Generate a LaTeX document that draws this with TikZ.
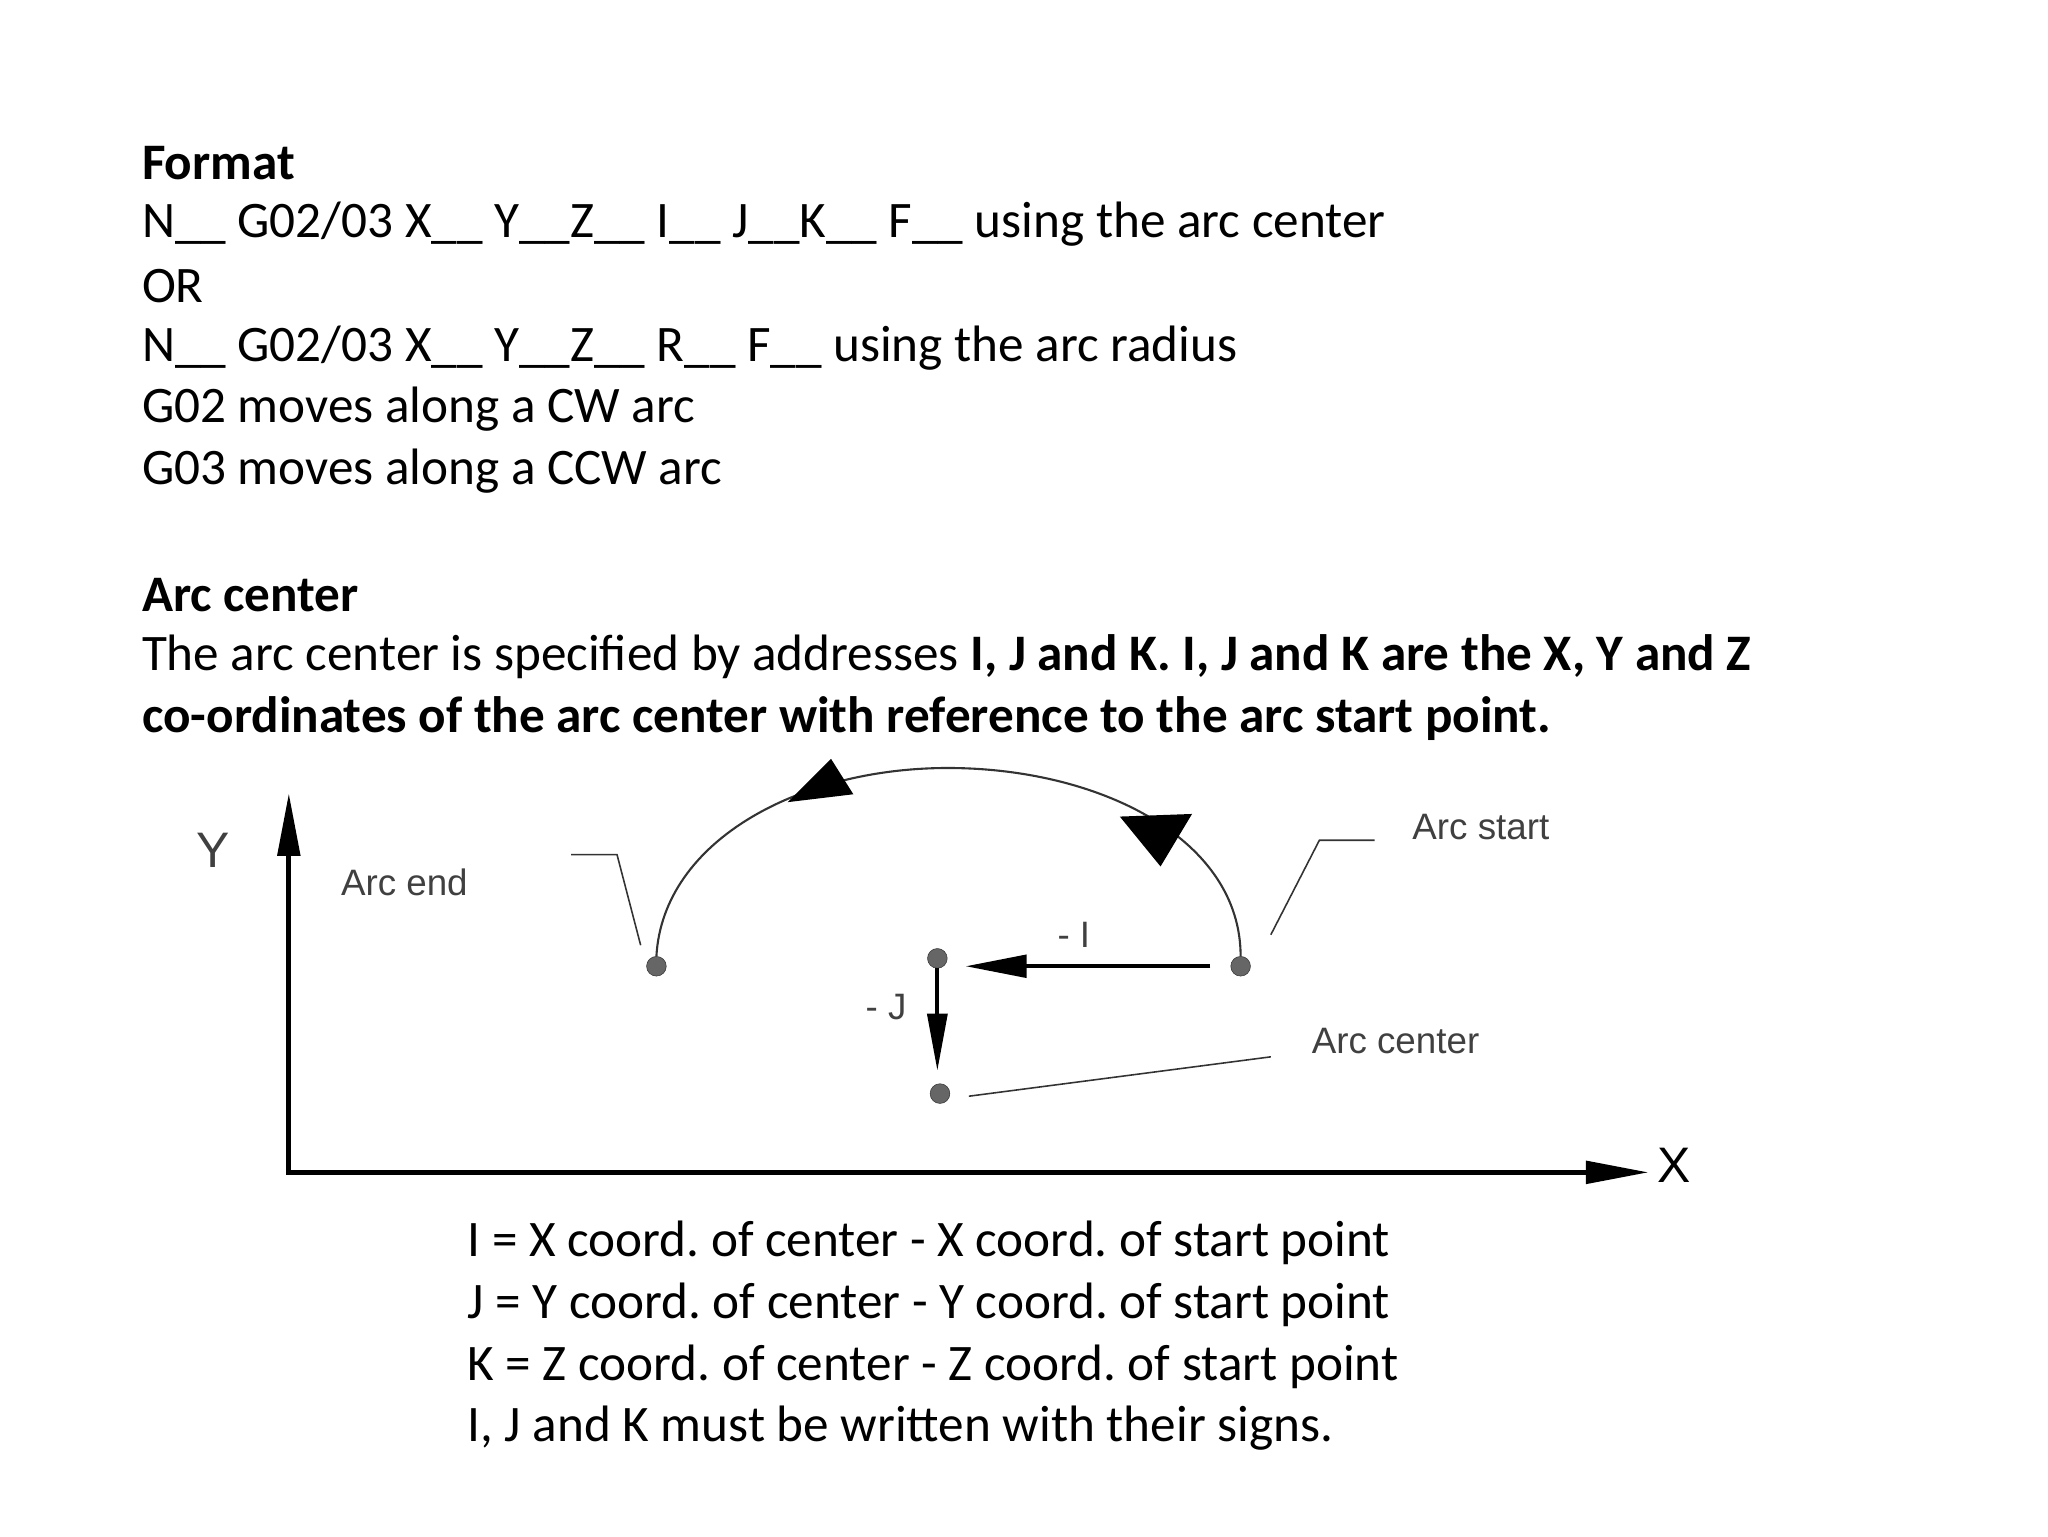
\documentclass[tikz,border=0pt]{standalone}
\usepackage{fontspec}
\setmainfont{Carlito}
\newfontfamily\arialf{Liberation Sans}
\frenchspacing
\begin{document}
\begin{tikzpicture}[x=1pt,y=-1pt,
  txt/.style={anchor=west,inner sep=0,font=\fontsize{39}{46}\selectfont},
  lab/.style={inner sep=0,font=\arialf\fontsize{28}{32}\selectfont,text=black!75},
  dot/.style={circle,fill=black!60,draw=black!80,inner sep=0,minimum size=15pt},
  ln/.style={line width=1.2pt,black!80},
  tri/.style={fill=black}]
\useasboundingbox (0,0) rectangle (1560,1170);
\node[txt] (t1) at (108,124) {\textbf{Format}};
\node[txt] (t2) at (108,171) {N\_\_ G02/03 X\_\_ Y\_\_Z\_\_ I\_\_ J\_\_K\_\_ F\_\_ using the arc center};
\node[txt] (t3) at (108,218) {OR};
\node[txt] (t4) at (108,265) {N\_\_ G02/03 X\_\_ Y\_\_Z\_\_ R\_\_ F\_\_ using the arc radius};
\node[txt] (t5) at (108,312) {G02 moves along a CW arc};
\node[txt] (t6) at (108,359) {G03 moves along a CCW arc};
\node[txt] (t7) at (108,453) {\textbf{Arc center}};
\node[txt] (t8) at (108,500) {The arc center is specified by addresses \textbf{I, J and K. I, J and K are the X, Y and Z}};
\node[txt] (t9) at (108,547) {\textbf{co-ordinates of the arc center with reference to the arc start point.}};
\node[txt] (b1) at (356,947) {I = X coord. of center - X coord. of start point};
\node[txt] (b2) at (356,994) {J = Y coord. of center - Y coord. of start point};
\node[txt] (b3) at (356,1041) {K = Z coord. of center - Z coord. of start point};
\node[txt] (b4) at (356,1088) {I, J and K must be written with their signs.};
% axes
\coordinate (o) at (220,893);
\coordinate (yt) at (220,640);
\coordinate (xt) at (1210,893);
\draw[line width=4pt] (yt) -- (o) -- (xt);
\fill[tri] (220,605) -- (211,652) -- (229,652) -- cycle;
\fill[tri] (1255,893) -- (1208,884) -- (1208,902) -- cycle;
\node[lab,font=\arialf\fontsize{38}{40}\selectfont] (Y) at (162,648) {Y};
\node[lab,text=black,font=\arialf\fontsize{38}{40}\selectfont] (X) at (1275,888) {X};
% points
\node[dot] (pe) at (500,736) {};
\node[dot] (ps) at (945,736) {};
\node[dot] (pc) at (716,833) {};
\node[dot] (pj) at (714,730) {};
\draw[ln,line width=1.6pt] (pe.north) .. controls (505,640) and (610,584) .. (725,585) .. controls (840,586) and (945,640) .. (ps.north);
\fill[tri] (600,611) -- (650,605) -- (633,578) -- cycle;
\fill[tri] (853,622) -- (908,620) -- (884,660) -- cycle;
% -I, -J
\coordinate (ia) at (922,736);
\coordinate (ib) at (770,736);
\draw[line width=3pt] (ia) -- (ib);
\fill[tri] (736,736) -- (782,727) -- (782,745) -- cycle;
\draw[line width=3pt] (pj.south) -- (714,780);
\fill[tri] (714,815) -- (706,772) -- (722,772) -- cycle;
\node[lab] (li) at (818,712) {- I};
\node[lab] (lj) at (675,767) {- J};
% labels and leaders
\node[lab] (le) at (308,672) {Arc end};
\node[lab] (ls) at (1128,630) {Arc start};
\node[lab] (lc) at (1063,793) {Arc center};
\coordinate (e1) at (435,651); \coordinate (e2) at (470,651); \coordinate (e3) at (488,720);
\draw[ln] (e1) -- (e2) -- (e3);
\coordinate (s1) at (1047,640); \coordinate (s2) at (1005,640); \coordinate (s3) at (968,712);
\draw[ln] (s1) -- (s2) -- (s3);
\coordinate (c1) at (968,805); \coordinate (c2) at (738,835);
\draw[ln] (c1) -- (c2);
\end{tikzpicture}
\end{document}
